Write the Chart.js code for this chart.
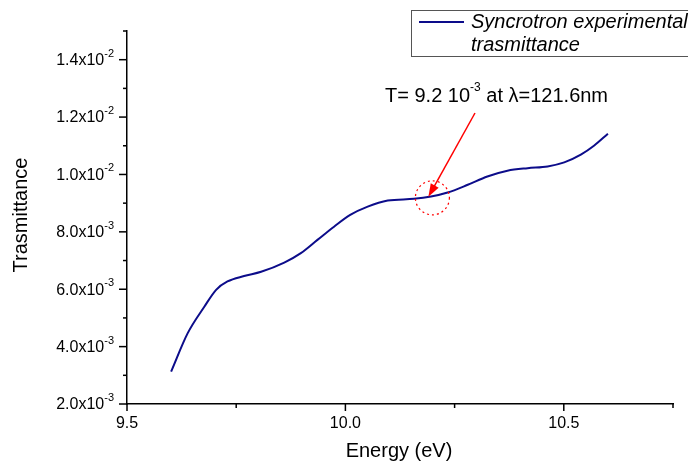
<!DOCTYPE html>
<html>
<head>
<meta charset="utf-8">
<script src="https://cdn.jsdelivr.net/npm/chart.js@4"></script>
<style>
  html, body { margin: 0; padding: 0; background: #fff; }
  #wrap { width: 688px; height: 461px; }
</style>
</head>
<body>
<div id="wrap"><canvas id="chart"></canvas></div>
<script>
// Energy (eV) and transmittance
var energy = [9.601, 9.639, 9.677, 9.704, 9.730, 9.768, 9.807, 9.860, 9.898, 9.936, 9.974, 10.011, 10.051, 10.097, 10.157, 10.196, 10.234, 10.280, 10.325, 10.371, 10.417, 10.463, 10.501, 10.539, 10.569, 10.601];
var trans = [3.13, 4.47, 5.39, 5.98, 6.27, 6.46, 6.61, 6.93, 7.26, 7.72, 8.18, 8.59, 8.88, 9.09, 9.15, 9.23, 9.37, 9.64, 9.93, 10.13, 10.22, 10.28, 10.42, 10.69, 11.00, 11.42];
var xTicks = [9.5, 10.0, 10.5];
var yTicks = [[2.0, -3], [4.0, -3], [6.0, -3], [8.0, -3], [1.0, -2], [1.2, -2], [1.4, -2]];
var marked = [10.19, 9.22]; // T = 9.2e-3 at 121.6 nm

var points = energy.map(function (e, i) { return { x: e, y: trans[i] * 1e-3 }; });

var FONT = 'Arial, "Liberation Sans", sans-serif';

var decorate = {
    id: 'decorate',
    afterDraw: function (chart) {
        var ctx = chart.ctx;
        var xs = chart.scales.x, ys = chart.scales.y;
        var area = chart.chartArea;
        ctx.save();
        ctx.strokeStyle = '#000';
        ctx.fillStyle = '#000';
        ctx.lineWidth = 1.5;

        // tick marks (major + minor)
        var v, p, major;
        for (v = 9.5; v <= 10.751; v += 0.25) {
            p = xs.getPixelForValue(v);
            major = Math.abs((v * 2) - Math.round(v * 2)) < 1e-6;
            ctx.beginPath();
            ctx.moveTo(p, area.bottom);
            ctx.lineTo(p, area.bottom + (major ? 7 : 4));
            ctx.stroke();
        }
        for (var k = 2; k <= 15; k++) {
            p = ys.getPixelForValue(k * 1e-3);
            major = k % 2 === 0;
            ctx.beginPath();
            ctx.moveTo(area.left, p);
            ctx.lineTo(area.left - (major ? 8 : 4), p);
            ctx.stroke();
        }

        // x tick labels
        ctx.font = '16px ' + FONT;
        ctx.textAlign = 'center';
        ctx.textBaseline = 'middle';
        xTicks.forEach(function (t) {
            ctx.fillText(t.toFixed(1), xs.getPixelForValue(t), area.bottom + 20);
        });

        // y tick labels with superscript exponent
        yTicks.forEach(function (t) {
            var y = ys.getPixelForValue(t[0] * Math.pow(10, t[1]));
            var base = t[0].toFixed(1) + 'x10';
            var sup = String(t[1]);
            ctx.font = '11px ' + FONT;
            var sw = ctx.measureText(sup).width;
            ctx.textAlign = 'right';
            ctx.fillText(sup, area.left - 13, y - 6);
            ctx.font = '16px ' + FONT;
            ctx.fillText(base, area.left - 13 - sw, y + 1);
        });

        // axis titles
        ctx.font = '20px ' + FONT;
        ctx.textAlign = 'center';
        ctx.fillText('Energy (eV)', 399, 451);
        ctx.save();
        ctx.translate(21, 215);
        ctx.rotate(-Math.PI / 2);
        ctx.fillText('Trasmittance', 0, 0);
        ctx.restore();

        // legend
        ctx.lineWidth = 1;
        ctx.strokeStyle = '#555';
        ctx.strokeRect(411.5, 10.5, 300, 46);
        ctx.strokeStyle = '#0c0c8a';
        ctx.lineWidth = 2;
        ctx.beginPath();
        ctx.moveTo(419, 22);
        ctx.lineTo(464, 22);
        ctx.stroke();
        ctx.font = 'italic 20px ' + FONT;
        ctx.textAlign = 'left';
        ctx.fillText('Syncrotron experimental', 471, 22);
        ctx.fillText('trasmittance', 471, 45);

        // annotation text
        var tx = 385, ty = 96;
        ctx.font = '20px ' + FONT;
        ctx.fillText('T= 9.2 10', tx, ty);
        tx += ctx.measureText('T= 9.2 10').width;
        ctx.font = '12px ' + FONT;
        ctx.fillText('-3', tx, ty - 8);
        tx += ctx.measureText('-3').width;
        ctx.font = '20px ' + FONT;
        ctx.fillText(' at \u03bb=121.6nm', tx, ty);

        // arrow + dashed circle at the marked point
        var mx = xs.getPixelForValue(marked[0]);
        var my = ys.getPixelForValue(marked[1] * 1e-3);
        ctx.strokeStyle = '#ff0000';
        ctx.fillStyle = '#ff0000';
        ctx.lineWidth = 1.5;
        var sx = 475, sy = 113;
        var ang = Math.atan2(my - sy, mx - sx);
        ctx.beginPath();
        ctx.moveTo(sx, sy);
        ctx.lineTo(mx - 10 * Math.cos(ang), my - 10 * Math.sin(ang));
        ctx.stroke();
        ctx.beginPath();
        ctx.moveTo(mx, my);
        ctx.lineTo(mx - 13 * Math.cos(ang) + 4.5 * Math.sin(ang), my - 13 * Math.sin(ang) - 4.5 * Math.cos(ang));
        ctx.lineTo(mx - 13 * Math.cos(ang) - 4.5 * Math.sin(ang), my - 13 * Math.sin(ang) + 4.5 * Math.cos(ang));
        ctx.closePath();
        ctx.fill();
        ctx.setLineDash([2, 3]);
        ctx.lineWidth = 1.2;
        ctx.beginPath();
        ctx.arc(mx + 4, my + 1, 17, 0, Math.PI * 2);
        ctx.stroke();
        ctx.restore();
    }
};

var ctx = document.getElementById('chart').getContext('2d');
new Chart(ctx, {
    type: 'line',
    data: {
        datasets: [{
            label: 'Syncrotron experimental trasmittance',
            data: points,
            borderColor: '#0c0c8a',
            borderWidth: 2,
            pointRadius: 0,
            fill: false,
            cubicInterpolationMode: 'monotone'
        }]
    },
    options: {
        responsive: true,
        maintainAspectRatio: false,
        animation: false,
        layout: { padding: { left: 119, right: 15, top: 31, bottom: 49 } },
        plugins: { legend: { display: false }, tooltip: { enabled: false } },
        scales: {
            x: {
                type: 'linear',
                min: 9.5,
                max: 10.75,
                grid: { display: false },
                border: { display: true, color: '#000', width: 1.5 },
                ticks: { display: false }
            },
            y: {
                min: 0.002,
                max: 0.015,
                grid: { display: false },
                border: { display: true, color: '#000', width: 1.5 },
                ticks: { display: false }
            }
        }
    },
    plugins: [decorate]
});
</script>
</body>
</html>
